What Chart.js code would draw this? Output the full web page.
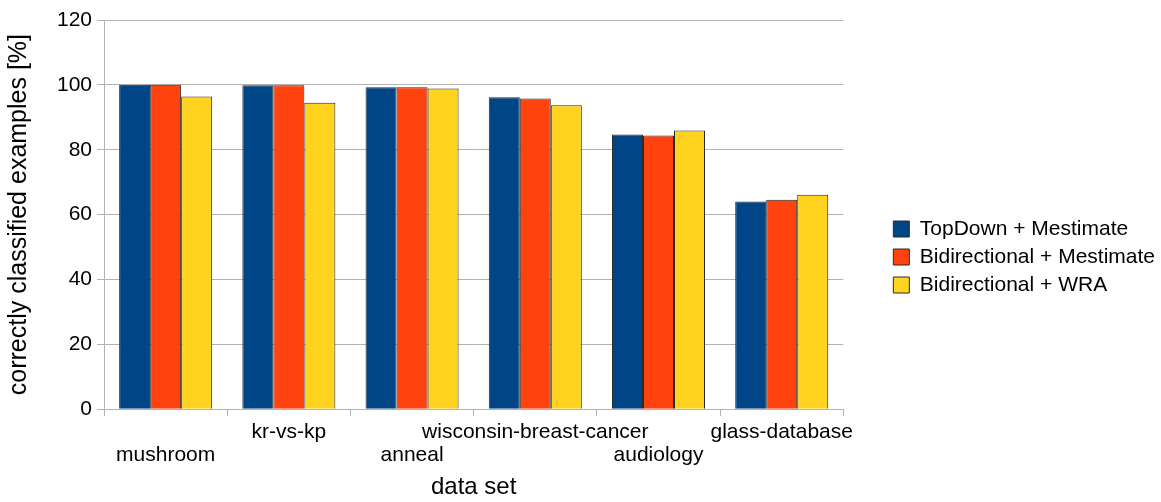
<!DOCTYPE html>
<html>
<head>
<meta charset="utf-8">
<script src="https://cdn.jsdelivr.net/npm/chart.js@4"></script>
<style>
  html, body { margin: 0; padding: 0; background: #fff; }
  #wrap { width: 1161px; height: 502px; }
</style>
</head>
<body>
<div id="wrap"><canvas id="chart" width="1161" height="502"></canvas></div>
<script>
  const categories = ["mushroom", "kr-vs-kp", "anneal", "wisconsin-breast-cancer", "audiology", "glass-database"];
  const topDownMestimate = [100, 99.9, 99.3, 96.2, 84.7, 64.0];
  const bidirMestimate = [100, 99.9, 99.3, 95.8, 84.4, 64.6];
  const bidirWRA = [96.4, 94.5, 98.9, 93.7, 85.9, 66.1];
  const seriesNames = ["TopDown + Mestimate", "Bidirectional + Mestimate", "Bidirectional + WRA"];

  const FONT = "'Liberation Sans', Arial, sans-serif";
  const GRID = "#b3b3b3";
  const LEGEND_GAP = 39;

  // legend sits further right than Chart.js puts it: widen then shift
  const legendGap = {
    id: "legendGap",
    beforeInit(chart) {
      const fit = chart.legend.fit;
      chart.legend.fit = function() {
        fit.call(this);
        this.width += LEGEND_GAP;
      };
    },
    afterLayout(chart) {
      chart.legend.left += LEGEND_GAP + 4;
      chart.legend.right += LEGEND_GAP + 4;
      chart.legend.top -= 4;
      chart.legend.bottom -= 4;
    },
  };

  const mkSet = (label, data, color) => ({
    label: label,
    data: data,
    backgroundColor: color,
    borderColor: "#2a2a2a",
    borderWidth: 1,
    categoryPercentage: 0.755,
    barPercentage: 1.0,
  });

  new Chart(document.getElementById("chart").getContext("2d"), {
    type: "bar",
    data: {
      labels: categories,
      datasets: [
        mkSet(seriesNames[0], topDownMestimate, "#004586"),
        mkSet(seriesNames[1], bidirMestimate, "#ff420e"),
        mkSet(seriesNames[2], bidirWRA, "#ffd320"),
      ],
    },
    options: {
      responsive: false,
      animation: false,
      layout: { padding: { top: 20, left: 0, right: 0, bottom: 0 } },
      plugins: {
        tooltip: { enabled: false },
        legend: {
          position: "right",
          labels: {
            boxWidth: 16,
            boxHeight: 16,
            padding: 7,
            color: "#000",
            font: { family: FONT, size: 21 },
          },
        },
      },
      scales: {
        x: {
          grid: {
            offset: true,
            color: (ctx) => (ctx.index === categories.length ? GRID : "rgba(0,0,0,0)"),
            tickColor: GRID,
            tickLength: 7,
          },
          border: { color: GRID },
          ticks: {
            color: "#000",
            autoSkip: false,
            maxRotation: 0,
            padding: 4,
            font: { family: FONT, size: 21, lineHeight: 1.12 },
            callback: (v, i) => (i % 2 === 0 ? ["", categories[i]] : [categories[i], ""]),
          },
          title: {
            display: true,
            text: "data set",
            color: "#000",
            padding: { top: 2, bottom: 0 },
            font: { family: FONT, size: 24 },
          },
        },
        y: {
          min: 0,
          max: 120,
          ticks: {
            stepSize: 20,
            color: "#000",
            padding: 5,
            font: { family: FONT, size: 21 },
          },
          grid: { color: GRID, tickLength: 7 },
          border: { color: GRID },
          title: {
            display: true,
            text: "correctly classified examples [%]",
            color: "#000",
            padding: { top: 4, bottom: 18 },
            font: { family: FONT, size: 25 },
          },
        },
      },
    },
    plugins: [legendGap],
  });
</script>
</body>
</html>
